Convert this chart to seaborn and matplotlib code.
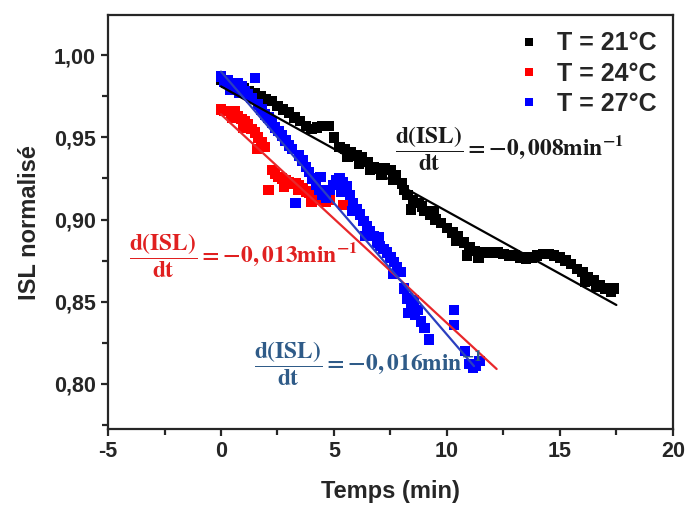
import numpy as np
import pandas as pd
import matplotlib
matplotlib.use("Agg")
import matplotlib.pyplot as plt
import seaborn as sns
from matplotlib.ticker import MultipleLocator, FuncFormatter

# --- data (temps in min, ISL normalisé) ---
t_21 = [0.0, 0.25, 0.5, 0.75, 1.0, 1.25, 1.5, 1.75, 2.0, 2.25, 2.5, 2.75, 3.0, 3.25,
        3.5, 3.75, 4.0, 4.25, 4.5, 4.75, 5.0, 5.25, 5.5, 5.75, 6.0, 6.25, 6.5, 6.75,
        7.0, 7.25, 7.5, 7.75, 8.0, 8.25, 8.5, 8.75, 9.0, 9.25, 9.5, 9.75, 10.0, 10.25,
        10.5, 10.75, 11.0, 11.25, 11.5, 11.75, 12.0, 12.25, 12.5, 12.75, 13.0, 13.25,
        13.5, 13.75, 14.0, 14.25, 14.5, 14.75, 15.0, 15.25, 15.5, 15.75, 16.0, 16.25,
        16.5, 16.75, 17.0, 17.25, 17.4,
        # second pass of points in the thicker parts of the band
        5.6, 6.1, 6.6, 7.1, 7.6, 8.1, 8.4, 8.9, 9.4, 10.4, 10.9, 11.4, 16.1, 16.6]
isl_21 = [0.985, 0.983, 0.982, 0.981, 0.980, 0.978, 0.977, 0.975, 0.973, 0.972, 0.969,
          0.967, 0.965, 0.962, 0.960, 0.957, 0.955, 0.956, 0.957, 0.957, 0.950, 0.944,
          0.943, 0.941, 0.939, 0.938, 0.935, 0.932, 0.931, 0.931, 0.930, 0.927, 0.922,
          0.915, 0.912, 0.910, 0.905, 0.903, 0.900, 0.898, 0.895, 0.892, 0.890, 0.886,
          0.883, 0.881, 0.880, 0.880, 0.880, 0.880, 0.879, 0.878, 0.878, 0.877, 0.876,
          0.877, 0.878, 0.879, 0.879, 0.878, 0.877, 0.875, 0.873, 0.870, 0.868, 0.865,
          0.863, 0.860, 0.858, 0.856, 0.858,
          0.938, 0.934, 0.930, 0.927, 0.924, 0.918, 0.906, 0.908, 0.905, 0.887, 0.878,
          0.877, 0.862, 0.859]

t_24 = [0.0, 0.15, 0.3, 0.45, 0.6, 0.75, 0.9, 1.05, 1.2, 1.35, 1.5, 1.65, 1.8, 1.95,
        2.1, 2.25, 2.4, 2.55, 2.7, 2.85, 3.0, 3.15, 3.3, 3.45, 3.6, 3.75, 3.9, 4.05,
        4.2, 4.35, 4.5, 4.65, 4.8, 5.4, 0.5, 1.0, 1.6, 2.8, 3.4, 4.0]
isl_24 = [0.967, 0.966, 0.966, 0.965, 0.966, 0.963, 0.961, 0.960, 0.958, 0.955, 0.953,
          0.950, 0.947, 0.944, 0.918, 0.930, 0.928, 0.926, 0.925, 0.924, 0.923, 0.922,
          0.922, 0.921, 0.919, 0.917, 0.916, 0.914, 0.913, 0.912, 0.912, 0.911, 0.912,
          0.909, 0.962, 0.956, 0.943, 0.920, 0.918, 0.911]

t_27 = [0.0, 0.15, 0.3, 0.45, 0.6, 0.75, 0.9, 1.05, 1.2, 1.35, 1.5, 1.65, 1.8, 1.95,
        2.1, 2.25, 2.4, 2.55, 2.7, 2.85, 3.0, 3.15, 3.3, 3.45, 3.6, 3.75, 3.9, 4.05,
        4.2, 4.35, 4.5, 4.65, 4.8, 4.95, 5.1, 5.25, 5.4, 5.55, 5.7, 5.85, 6.0, 6.15,
        6.3, 6.45, 6.6, 6.75, 6.9, 7.05, 7.2, 7.35, 7.5, 7.65, 7.8, 7.95, 8.1, 8.25,
        8.4, 8.55, 8.7, 8.85, 9.0, 9.2, 10.3, 10.3, 10.8, 11.0, 11.15, 11.3, 11.45,
        0.4, 0.8, 4.4, 5.3, 5.8, 6.4, 7.0, 7.6, 8.3, 8.6]
isl_27 = [0.987, 0.984, 0.985, 0.983, 0.982, 0.983, 0.981, 0.978, 0.976, 0.974, 0.986,
          0.970, 0.967, 0.964, 0.962, 0.959, 0.956, 0.954, 0.951, 0.948, 0.945, 0.943,
          0.910, 0.939, 0.936, 0.932, 0.929, 0.925, 0.921, 0.918, 0.915, 0.913, 0.918,
          0.921, 0.924, 0.925, 0.923, 0.920, 0.915, 0.910, 0.906, 0.903, 0.899, 0.896,
          0.893, 0.890, 0.886, 0.884, 0.882, 0.880, 0.877, 0.874, 0.871, 0.868, 0.858,
          0.852, 0.849, 0.851, 0.845, 0.838, 0.834, 0.827, 0.845, 0.836, 0.820, 0.812,
          0.810, 0.811, 0.814,
          0.979, 0.977, 0.926, 0.917, 0.905, 0.890, 0.889, 0.867, 0.843, 0.842]

labels = ["T = 21°C", "T = 24°C", "T = 27°C"]
colors = ["#000000", "#ff0000", "#0000ff"]

# linear fits (slope, intercept, t range) as shown on the chart
fit_slope = [-0.0076, -0.0127, -0.0160]
fit_icpt = [0.981, 0.964, 0.990]
fit_t0 = [0.0, 0.0, 0.0]
fit_t1 = [17.5, 12.2, 11.2]
fit_colors = ["#000000", "#e8272a", "#2b3fbf"]

ann_text = [r"$\dfrac{d(ISL)}{dt} = -0,008min^{-1}$",
            r"$\dfrac{d(ISL)}{dt} = -0,013min^{-1}$",
            r"$\dfrac{d(ISL)}{dt} = -0,016min^{-1}$"]
ann_x = [12.75, 1.0, 6.5]
ann_y = [0.943, 0.878, 0.812]
ann_colors = ["#1a1a1a", "#e02020", "#2f5b88"]

sns.set_style("ticks")
plt.rcParams["font.family"] = ["Liberation Sans", "DejaVu Sans"]
plt.rcParams["font.weight"] = "bold"
plt.rcParams["mathtext.fontset"] = "stix"
plt.rcParams["mathtext.default"] = "bf"

df = pd.concat([
    pd.DataFrame({"Temps": t_21, "ISL": isl_21, "serie": labels[0]}),
    pd.DataFrame({"Temps": t_24, "ISL": isl_24, "serie": labels[1]}),
    pd.DataFrame({"Temps": t_27, "ISL": isl_27, "serie": labels[2]}),
], ignore_index=True)

fig, ax = plt.subplots(figsize=(6.88, 5.07), dpi=100)
fig.subplots_adjust(left=0.157, right=0.978, bottom=0.154, top=0.970)

sns.scatterplot(data=df, x="Temps", y="ISL", hue="serie", hue_order=labels,
                palette=colors, marker="s", s=56, linewidth=0, ax=ax, zorder=2)

for i in range(3):
    tt = np.array([fit_t0[i], fit_t1[i]])
    ax.plot(tt, fit_icpt[i] + fit_slope[i] * tt, color=fit_colors[i], lw=1.6, zorder=3)
    ax.text(ann_x[i], ann_y[i], ann_text[i], color=ann_colors[i], fontsize=16.8,
            ha="center", va="center", zorder=4)

ax.set_xlim(-5, 20)
ax.set_ylim(0.7726, 1.0243)
ax.xaxis.set_major_locator(MultipleLocator(5))
ax.xaxis.set_minor_locator(MultipleLocator(2.5))
ax.yaxis.set_major_locator(MultipleLocator(0.05))
ax.yaxis.set_minor_locator(MultipleLocator(0.025))
ax.yaxis.set_major_formatter(FuncFormatter(lambda v, p: f"{v:.2f}".replace(".", ",")))
ax.xaxis.set_major_formatter(FuncFormatter(lambda v, p: f"{v:g}"))

for sp in ax.spines.values():
    sp.set_linewidth(1.6)
    sp.set_visible(True)
ax.tick_params(which="major", length=5, width=1.6, labelsize=15.5, direction="out",
               top=False, right=False, pad=4)
ax.tick_params(which="minor", length=4, width=1.6, direction="out", top=False, right=False)
for lab in ax.get_xticklabels() + ax.get_yticklabels():
    lab.set_fontweight("bold")

ax.set_xlabel("Temps (min)", fontsize=17, fontweight="bold", labelpad=13)
ax.set_ylabel("ISL normalisé", fontsize=17, fontweight="bold", labelpad=9)

handles, _ = ax.get_legend_handles_labels()
ax.legend(handles=handles, labels=labels, loc="upper right", frameon=False,
          prop={"size": 18, "weight": "bold"}, markerscale=0.75, handletextpad=0.5,
          handlelength=1.2, labelspacing=0.25, borderaxespad=0.25)

fig.savefig("out.png", dpi=100)
